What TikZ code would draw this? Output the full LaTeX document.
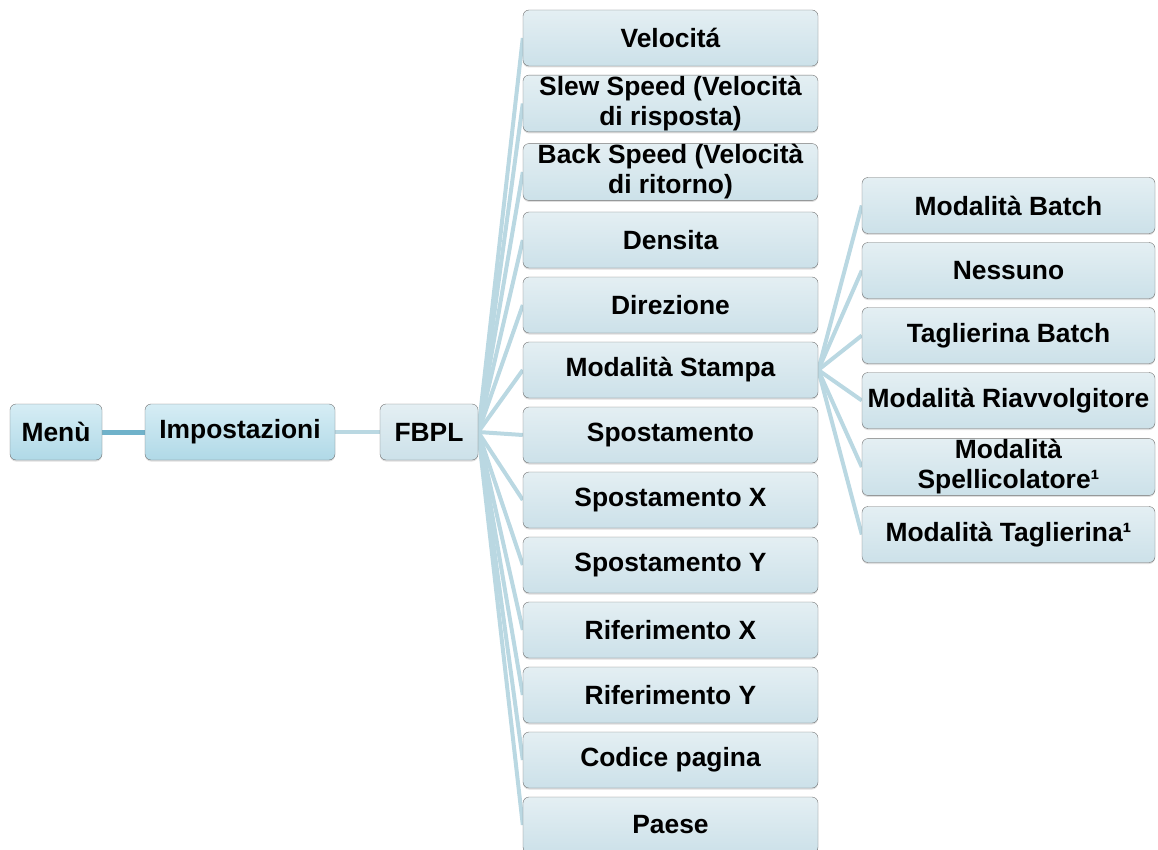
\documentclass[tikz,border=0pt]{standalone}
\usepackage{fontspec}
\setmainfont{Liberation Sans}
\usetikzlibrary{shadows,backgrounds}

\definecolor{linkblue}{RGB}{186,216,226}
\definecolor{darklink}{RGB}{112,178,202}
\definecolor{boxtop}{RGB}{228,239,243}
\definecolor{boxbot}{RGB}{204,225,233}
\definecolor{headtop}{RGB}{214,237,245}
\definecolor{headbot}{RGB}{176,217,231}

\tikzset{
  box/.style={draw=black!55, rounded corners=6pt, minimum height=56pt,
    inner xsep=2pt, inner ysep=1pt, align=center,
    font=\bfseries\fontsize{26.4}{30}\selectfont,
    top color=boxtop, bottom color=boxbot,
    drop shadow={opacity=0.25, shadow xshift=0pt, shadow yshift=-1.5pt}},
  headbox/.style={box, top color=headtop, bottom color=headbot},
  itembox/.style={box, minimum width=295pt},
  subbox/.style={box, minimum width=293pt},
  link/.style={line width=4pt, draw=linkblue},
}

\begin{document}
\begin{tikzpicture}[x=1pt, y=-1pt]
  \useasboundingbox (0,0) rectangle (1158,850);

  \node[headbox, minimum width=92pt]  (menu)   at (56,432)  {Menù};
  \node[headbox, minimum width=190pt] (impost) at (240,432) {Impostazioni};
  \node[box, minimum width=98pt]      (fbpl)   at (429,432) {FBPL};

  \node[itembox] (veloc)  at (670.5,38)    {Velocitá};
  \node[itembox] (slew)   at (670.5,103.5) {Slew Speed (Velocità\\di risposta)};
  \node[itembox] (back)   at (670.5,172)   {Back Speed (Velocità\\di ritorno)};
  \node[itembox] (dens)   at (670.5,240)   {Densita};
  \node[itembox] (direz)  at (670.5,305)   {Direzione};
  \node[itembox] (stampa) at (670.5,370)   {Modalità Stampa};
  \node[itembox] (spost)  at (670.5,435)   {Spostamento};
  \node[itembox] (spostx) at (670.5,500)   {Spostamento X};
  \node[itembox] (sposty) at (670.5,565)   {Spostamento Y};
  \node[itembox] (rifx)   at (670.5,630)   {Riferimento X};
  \node[itembox] (rify)   at (670.5,695)   {Riferimento Y};
  \node[itembox] (codice) at (670.5,760)   {Codice pagina};
  \node[itembox] (paese)  at (670.5,825)   {Paese};

  \node[subbox] (batch)  at (1008.5,205.5) {Modalità Batch};
  \node[subbox] (nessuno) at (1008.5,270.5) {Nessuno};
  \node[subbox] (tbatch) at (1008.5,335.5) {Taglierina Batch};
  \node[subbox] (riavv)  at (1008.5,400.5) {Modalità Riavvolgitore};
  \node[subbox] (spell)  at (1008.5,467)   {Modalità\\Spellicolatore¹};
  \node[subbox] (tagl)   at (1008.5,534.5) {Modalità Taglierina¹};

  \begin{scope}[on background layer]
    \draw[link, draw=darklink, line width=5pt] (menu) -- (impost);
    \draw[link] (impost) -- (fbpl);
    \foreach \n in {veloc,slew,back,dens,direz,stampa,spost,spostx,sposty,rifx,rify,codice,paese}
      \draw[link] (fbpl.east) -- (\n.west);
    \foreach \n in {batch,nessuno,tbatch,riavv,spell,tagl}
      \draw[link] (stampa.east) -- (\n.west);
  \end{scope}
\end{tikzpicture}
\end{document}
